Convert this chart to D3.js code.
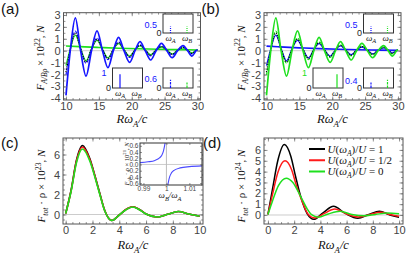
<!DOCTYPE html>
<html>
<head>
<meta charset="utf-8">
<script src="https://cdn.jsdelivr.net/npm/d3@7"></script>
<style>
  body { margin: 0; background: #fff; }
</style>
</head>
<body>
<script>
// ---------- data ----------
// panels (a),(b): oscillating forces, R*wA/c from 10 to 30
const xOsc = [10, 10.65, 11.42, 12.22, 13.05, 13.88, 14.72, 15.55, 16.38, 17.2, 18.0, 18.82, 19.68, 20.5,
              21.25, 22.05, 22.88, 23.7, 24.52, 25.35, 26.15, 26.98, 27.8, 28.5, 29.15, 29.8, 30];
const bigOsc  = [-3.75, 0, 2.75, 0, -2.13, 0, 1.66, 0, -1.43, 0, 1.12, 0, -0.98, 0, 0.76, 0, -0.78, 0,
                 0.62, 0, -0.59, 0, 0.42, 0, -0.45, 0, 0.1];
const dashOsc = [-2.05, 0.1, 1.65, 0.17, -1.05, 0.14, 1.05, 0.12, -0.75, 0.1, 0.74, 0.08, -0.57, 0.07,
                 0.5, 0.06, -0.43, 0.05, 0.4, 0.04, -0.35, 0.04, 0.3, 0.03, -0.26, 0.03, 0.09];
const dotOsc  = [-1.8, 0.1, 1.48, 0.17, -0.95, 0.14, 0.95, 0.12, -0.66, 0.1, 0.66, 0.08, -0.5, 0.07,
                 0.45, 0.06, -0.38, 0.05, 0.35, 0.04, -0.3, 0.04, 0.27, 0.03, -0.22, 0.03, 0.08];
const thinOsc = [-1.25, 0.15, 1.3, 0.18, -0.85, 0.15, 0.86, 0.12, -0.6, 0.1, 0.6, 0.08, -0.45, 0.07,
                 0.4, 0.06, -0.34, 0.05, 0.31, 0.04, -0.27, 0.04, 0.24, 0.03, -0.19, 0.03, 0.07];
const xSlow = [10, 12, 15, 18, 21, 24, 27, 30];
const slowA = [0.4, 0.34, 0.27, 0.21, 0.16, 0.12, 0.09, 0.06];
const slowB = [0.38, 0.32, 0.24, 0.17, 0.12, 0.08, 0.05, 0.03];

// spectral weights in the small insets: top-right, bottom-left, bottom-right
const insetWA_a = [0.5, 1, 0.6], insetWB_a = [0.5, 0, 0.4];
const insetWA_b = [0.5, 0, 0.4], insetWB_b = [0.5, 1, 0.6];
const insetFreqs = ["A", "B"];

// panel (c): total force, three nearly overlapping curves
const xC = [0, 0.4, 0.8, 1.25, 1.8, 2.2, 2.55, 2.9, 3.45, 4.0, 4.5, 5.0, 5.5, 6.0, 6.8, 7.6, 8.4, 9.2, 10];
const cBlack = [0.1, 2.4, 5.4, 6.9, 5.6, 3.8, 2.1, 0.45, -0.6, -0.05, 0.5, 0.78, 0.5, 0.05, -0.25, 0.02, 0.3, 0.05, -0.17];
const cRed   = [0.1, 2.35, 5.3, 6.75, 5.5, 3.75, 2.05, 0.45, -0.6, -0.05, 0.5, 0.77, 0.5, 0.05, -0.25, 0.02, 0.3, 0.05, -0.17];
const cGreen = [0.1, 2.3, 5.15, 6.55, 5.35, 3.65, 2.0, 0.42, -0.6, -0.05, 0.48, 0.75, 0.48, 0.05, -0.25, 0.02, 0.3, 0.05, -0.17];
// inset of (c): wB/wA vs force
const cinLeft  = [[0.9885, 0.06], [0.992, 0.085], [0.995, 0.13], [0.997, 0.21], [0.998, 0.3],
                  [0.9987, 0.43], [0.9992, 0.6], [0.9995, 0.72]];
const cinRight = [[1.0005, -0.72], [1.0009, -0.55], [1.0014, -0.4], [1.0022, -0.27], [1.0035, -0.18],
                  [1.006, -0.11], [1.01, -0.07], [1.0155, -0.045]];

// panel (d)
const dBlack = [[0, 0.05], [0.35, 2.4], [0.75, 5.0], [1.25, 6.5], [1.75, 5.4], [2.1, 3.6], [2.5, 1.7], [3.0, 0.1],
                [3.5, -0.4], [4.2, 0.2], [5.0, 0.8], [5.9, 0.15], [6.85, -0.3], [7.7, 0.05], [8.5, 0.35], [9.3, 0.0], [10, -0.2]];
const dRed   = [[0, 0.05], [0.35, 1.9], [0.75, 3.9], [1.3, 5.0], [1.8, 4.2], [2.15, 2.8], [2.5, 1.6], [3.05, 0.1],
                [3.6, -0.28], [4.3, 0.15], [5.1, 0.55], [6.0, 0.1], [6.9, -0.18], [7.8, 0.05], [8.6, 0.25], [9.4, 0.02], [10, -0.12]];
const dGreen = [[0, 0.05], [0.35, 1.3], [0.8, 2.7], [1.4, 3.4], [1.9, 3.0], [2.5, 1.7], [3.0, 0.55], [3.3, 0.05],
                [3.85, -0.2], [4.6, 0.1], [5.5, 0.35], [6.4, 0.05], [7.3, -0.08], [8.2, 0.05], [9.1, 0.18], [10, 0.12]];
const legendValues = ["1", "1/2", "0"];

// ticks
const abXTicks = [10, 15, 20, 25, 30], abYTicks = [-4, -3, -2, -1, 0, 1, 2, 3];
const cdXTicks = [0, 2, 4, 6, 8, 10], cYTicks = [0, 2, 4, 6], dYTicks = [0, 1, 2, 3, 4, 5, 6];
const cinXTicks = [0.99, 1, 1.01], cinXLabels = ["0.99", "1", "1.01"];
const cinYTicks = [-0.6, -0.4, -0.2, 0, 0.2, 0.4, 0.6], cinYLabels = ["-0.6", "-0.4", "-0.2", "0.0", "0.2", "0.4", "0.6"];

// ---------- drawing ----------
const BLUE = "#1515ff", GREEN = "#1ee01e", RED = "#ff1a1a";
const SANS = '"Liberation Sans", Arial, sans-serif';
const SERIF = '"Liberation Serif", "Times New Roman", serif';

const svg = d3.select("body").append("svg").attr("width", 407).attr("height", 254);

function math(parent, parts, fs) {
  const t = parent.append("text").attr("font-family", SERIF).attr("font-size", fs)
    .style("white-space", "pre").attr("fill", "#111");
  let cur = 0;
  parts.forEach(p => {
    const off = p.b === "sub" ? fs * 0.28 : p.b === "sup" ? -fs * 0.4 : 0;
    t.append("tspan").attr("dy", off - cur).attr("font-size", p.b ? fs * 0.7 : fs)
      .attr("font-style", p.i ? "italic" : "normal").text(p.t);
    cur = off;
  });
  return t;
}

function axes(g, f, x, y, o) {
  const T = o.T || 3.5, m = (o.T || 3.5) * 0.55, fs = o.fs || 11;
  const add = (axis, tr) => g.append("g").attr("transform", tr).call(axis);
  add(d3.axisBottom(x).tickValues(o.xt).tickSize(-T).tickPadding(o.xp || 2)
      .tickFormat((d, i) => o.xl ? o.xl[i] : String(d)), `translate(0,${f.b})`);
  add(d3.axisLeft(y).tickValues(o.yt).tickSize(-T).tickPadding(o.yp || 3)
      .tickFormat((d, i) => o.yl ? o.yl[i] : String(d)), `translate(${f.l},0)`);
  add(d3.axisTop(x).tickValues(o.xt).tickSize(-T).tickFormat(""), `translate(0,${f.t})`);
  add(d3.axisRight(y).tickValues(o.yt).tickSize(-T).tickFormat(""), `translate(${f.r},0)`);
  if (o.xm) {
    add(d3.axisBottom(x).tickValues(o.xm).tickSize(-m).tickFormat(""), `translate(0,${f.b})`);
    add(d3.axisTop(x).tickValues(o.xm).tickSize(-m).tickFormat(""), `translate(0,${f.t})`);
  }
  if (o.ym) {
    add(d3.axisLeft(y).tickValues(o.ym).tickSize(-m).tickFormat(""), `translate(${f.l},0)`);
    add(d3.axisRight(y).tickValues(o.ym).tickSize(-m).tickFormat(""), `translate(${f.r},0)`);
  }
  g.selectAll(".domain").remove();
  g.selectAll(".tick line").attr("stroke", "#777").attr("stroke-width", 0.8);
  g.selectAll(".tick text").attr("fill", "#444").attr("font-size", fs).attr("font-family", SANS);
}

let clipId = 0;
function panel(f, xd, yd) {
  const g = svg.append("g");
  const x = d3.scaleLinear().domain(xd).range([f.l, f.r]);
  const y = d3.scaleLinear().domain(yd).range([f.b, f.t]);
  const id = "clip" + (clipId++);
  svg.append("clipPath").attr("id", id).append("rect")
    .attr("x", f.l).attr("y", f.t).attr("width", f.r - f.l).attr("height", f.b - f.t);
  g.append("rect").attr("x", f.l).attr("y", f.t).attr("width", f.r - f.l).attr("height", f.b - f.t)
    .attr("fill", "#fff");
  const plot = g.append("g").attr("clip-path", `url(#${id})`);
  plot.append("line").attr("x1", f.l).attr("x2", f.r).attr("y1", y(0)).attr("y2", y(0))
    .attr("stroke", "#ccc").attr("stroke-width", 1);
  return { g, plot, x, y, f };
}

function frameRect(p) {
  p.g.append("rect").attr("x", p.f.l).attr("y", p.f.t).attr("width", p.f.r - p.f.l)
    .attr("height", p.f.b - p.f.t).attr("fill", "none").attr("stroke", "#555").attr("stroke-width", 1);
}

function curve(p, pts, color, w, dash) {
  p.plot.append("path").datum(pts)
    .attr("fill", "none").attr("stroke", color).attr("stroke-width", w)
    .attr("stroke-dasharray", dash || null).attr("stroke-linejoin", "round")
    .attr("d", d3.line().x(d => p.x(d[0])).y(d => p.y(d[1])).curve(d3.curveMonotoneX));
}
const zip = (xs, ys) => xs.map((v, i) => [v, ys[i]]);

function yLabel(cx, cy, parts, fs) {
  const g = svg.append("g").attr("transform", `translate(${cx},${cy}) rotate(-90)`);
  math(g, parts, fs).attr("text-anchor", "middle");
}
function xLabel(cx, cy) {
  math(svg.append("g").attr("transform", `translate(${cx},${cy})`),
    [{ t: "Rω", i: 1 }, { t: "A", i: 1, b: "sub" }, { t: "/c", i: 1 }], 12.5).attr("text-anchor", "middle");
}
function panelTag(x, y, s) {
  svg.append("text").attr("x", x).attr("y", y).attr("font-family", SANS).attr("font-size", 15)
    .attr("fill", "#111").text(s);
}

// small spectral insets in (a), (b)
function spectrumInset(f, wA, wB, style) {
  const g = svg.append("g");
  const x = d3.scalePoint().domain(insetFreqs).range([f.l + 7.5, f.r - 6]);
  const y = d3.scaleLinear().domain([0, 1.45]).range([f.b, f.t]);
  g.append("rect").attr("x", f.l).attr("y", f.t).attr("width", f.r - f.l).attr("height", f.b - f.t)
    .attr("fill", "#fff").attr("stroke", "#333").attr("stroke-width", 1);
  [[wA, "A", BLUE], [wB, "B", GREEN]].forEach(([w, k, c]) => {
    if (w > 0) g.append("line").attr("x1", x(k)).attr("x2", x(k)).attr("y1", y(0)).attr("y2", y(w))
      .attr("stroke", c).attr("stroke-width", 1.2).attr("stroke-dasharray", style);
  });
  const lab = wA > 0 ? [wA, BLUE] : [wB, GREEN];
  g.append("text").attr("x", f.l - 6).attr("y", y(lab[0]) + 2).attr("text-anchor", "end")
    .attr("font-family", SANS).attr("font-size", 9).attr("fill", lab[1]).text(String(lab[0]));
  g.append("text").attr("x", f.l - 1.5).attr("y", y(0) + 3).attr("text-anchor", "end")
    .attr("font-family", SANS).attr("font-size", 9).attr("fill", "#222").text("0");
  insetFreqs.forEach(k => {
    math(g.append("g").attr("transform", `translate(${x(k)},${f.b + 7.5})`),
      [{ t: "ω", i: 1 }, { t: k, i: 1, b: "sub" }], 9).attr("text-anchor", "middle");
  });
}

function oscPanel(dx, main, other, slow, wA, wB, tag) {
  const f = { l: 63.5 + dx, r: 200.5 + dx, t: 12.7, b: 100 };
  const p = panel(f, [9.62, 30.46], [-4.14, 3.19]);
  curve(p, zip(xSlow, slow), other, 1.6);
  curve(p, zip(xOsc, thinOsc), other, 1.3);
  curve(p, zip(xOsc, dashOsc), main, 1.2, "3,1.5");
  curve(p, zip(xOsc, dotOsc), "#000", 1.3, "1,1.4");
  curve(p, zip(xOsc, bigOsc), main, 1.7);
  axes(p.g, f, p.x, p.y, { xt: abXTicks, yt: abYTicks, xm: d3.range(10, 31, 1), ym: d3.range(-4, 3.1, 0.5) });
  frameRect(p);
  const L = f.l;
  spectrumInset({ l: L + 99.5, r: L + 129.5, t: 14, b: 33 }, wA[0], wB[0], "1,1");
  spectrumInset({ l: L + 49, r: L + 79, t: 68, b: 88 }, wA[1], wB[1], null);
  spectrumInset({ l: L + 99.5, r: L + 129.5, t: 68, b: 88 }, wA[2], wB[2], "2.5,1");
  yLabel(44 + dx, 58, [{ t: "F", i: 1 }, { t: "A/Bρ", i: 1, b: "sub" }, { t: " × 10" }, { t: "22", b: "sup" },
    { t: ", " }, { t: "N", i: 1 }], 11);
  xLabel((f.l + f.r) / 2, 123);
  panelTag(1 + dx, 14, tag);
}

oscPanel(0, BLUE, GREEN, slowA, insetWA_a, insetWB_a, "(a)");
oscPanel(200.5, GREEN, BLUE, slowB, insetWA_b, insetWB_b, "(b)");

// ---------- panel (c) ----------
{
  const f = { l: 63, r: 203, t: 138, b: 224 };
  const p = panel(f, [-0.2, 10.25], [-0.95, 7.65]);
  curve(p, zip(xC, cBlack), "#000", 1.6);
  curve(p, zip(xC, cRed), RED, 1.6);
  curve(p, zip(xC, cGreen), GREEN, 1.6);
  axes(p.g, f, p.x, p.y, { xt: cdXTicks, yt: cYTicks, xm: d3.range(0, 10.1, 0.5), ym: d3.range(-0.5, 7.6, 0.5) });
  frameRect(p);

  // inset
  const fi = { l: 140, r: 202, t: 143, b: 185 };
  const q = panel(fi, [0.9885, 1.0155], [-0.66, 0.69]);
  q.plot.append("line").attr("x1", q.x(1)).attr("x2", q.x(1)).attr("y1", fi.t).attr("y2", fi.b)
    .attr("stroke", "#bbb").attr("stroke-width", 1);
  curve(q, cinLeft, "#4a4aff", 1.1);
  curve(q, cinRight, "#4a4aff", 1.1);
  axes(q.g, fi, q.x, q.y, { xt: cinXTicks, xl: cinXLabels, yt: cinYTicks, yl: cinYLabels, T: 2, fs: 6.5, xp: 1.5, yp: 1.5 });
  q.g.append("rect").attr("x", fi.l).attr("y", fi.t).attr("width", fi.r - fi.l).attr("height", fi.b - fi.t)
    .attr("fill", "none").attr("stroke", "#333").attr("stroke-width", 1);
  yLabel(129, 164, [{ t: "F", i: 1 }, { t: "tot", i: 1, b: "sub" }, { t: " · ρ × 10" }, { t: "21", b: "sup" },
    { t: ", " }, { t: "N", i: 1 }], 6.5);
  math(svg.append("g").attr("transform", "translate(170,198)"),
    [{ t: "ω", i: 1 }, { t: "B", i: 1, b: "sub" }, { t: "/ω", i: 1 }, { t: "A", i: 1, b: "sub" }], 9)
    .attr("text-anchor", "middle");

  yLabel(45, 186, [{ t: "F", i: 1 }, { t: "tot", i: 1, b: "sub" }, { t: " · ρ × 10" }, { t: "23", b: "sup" },
    { t: ", " }, { t: "N", i: 1 }], 11);
  xLabel((f.l + f.r) / 2, 249);
  panelTag(1, 148, "(c)");
}

// ---------- panel (d) ----------
{
  const f = { l: 264, r: 403, t: 138, b: 224 };
  const p = panel(f, [-0.3, 10.3], [-0.83, 7.1]);
  curve(p, dBlack, "#000", 1.5);
  curve(p, dRed, RED, 1.5);
  curve(p, dGreen, GREEN, 1.5);
  axes(p.g, f, p.x, p.y, { xt: cdXTicks, yt: dYTicks, xm: d3.range(0, 10.1, 0.5), ym: d3.range(-0.5, 7.1, 0.5) });
  frameRect(p);

  const colors = ["#000", RED, GREEN];
  const ly = d3.scalePoint().domain(legendValues).range([149, 171.5]);
  legendValues.forEach((v, i) => {
    svg.append("line").attr("x1", 309).attr("x2", 325).attr("y1", ly(v)).attr("y2", ly(v))
      .attr("stroke", colors[i]).attr("stroke-width", 2);
    math(svg.append("g").attr("transform", `translate(327.5,${ly(v) + 3.5})`),
      [{ t: "U", i: 1 }, { t: "(" }, { t: "ω", i: 1 }, { t: "A", i: 1, b: "sub" }, { t: ")/" }, { t: "U", i: 1 },
       { t: " = " + v }], 11);
  });

  yLabel(245, 186, [{ t: "F", i: 1 }, { t: "tot", i: 1, b: "sub" }, { t: " · ρ × 10" }, { t: "24", b: "sup" },
    { t: ", " }, { t: "N", i: 1 }], 11);
  xLabel((f.l + f.r) / 2, 249);
  panelTag(203, 148, "(d)");
}
</script>
</body>
</html>
